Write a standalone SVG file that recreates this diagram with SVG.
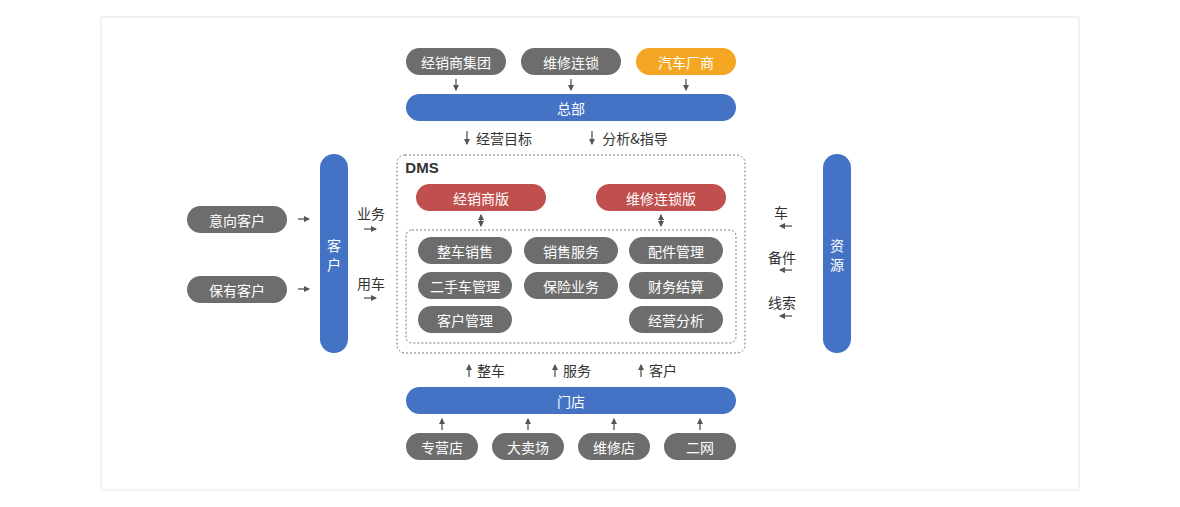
<svg xmlns="http://www.w3.org/2000/svg" width="1180" height="507" viewBox="0 0 1180 507">
<defs>
<marker id="ah" viewBox="0 0 6 6" refX="5" refY="3" markerWidth="5" markerHeight="5" orient="auto-start-reverse"><path d="M0,0L6,3L0,6z" fill="#555"/></marker>
<style>
text{font-family:"Noto Sans CJK SC","Liberation Sans",sans-serif;font-size:14px;text-anchor:middle;dominant-baseline:central}
.w{fill:#fff}.d{fill:#333}
.g{fill:#6d6d6d}.b{fill:#4472c4}.r{fill:#c0504d}.o{fill:#f5a623}
.c line{stroke:#555;stroke-width:1.3;marker-end:url(#ah)}
.dash{fill:none;stroke:#777;stroke-dasharray:2 2;stroke-width:1}
</style>
</defs>
<rect width="1180" height="507" fill="#fff"/>
<rect x="101" y="17" width="978" height="473" fill="#fff" stroke="#e6e6e6"/>
<rect class="dash" x="397" y="155" width="348" height="198" rx="8"/>
<rect class="dash" x="406" y="230" width="330" height="113" rx="6"/>
<text x="422" y="167" class="d" style="font-weight:bold;font-family:'Liberation Sans',sans-serif;font-size:15px">DMS</text>
<g id="n1"><rect class="g" x="406" y="48" width="100" height="27" rx="13.5"/><text class="w" x="456" y="61.5">经销商集团</text></g>
<g id="n2"><rect class="g" x="521" y="48" width="100" height="27" rx="13.5"/><text class="w" x="571" y="61.5">维修连锁</text></g>
<g id="n3"><rect class="o" x="636" y="48" width="100" height="27" rx="13.5"/><text class="w" x="686" y="61.5">汽车厂商</text></g>
<g id="hq"><rect class="b" x="406" y="94" width="330" height="27" rx="13.5"/><text class="w" x="571" y="107.5">总部</text></g>
<g id="dv1"><rect class="r" x="416" y="184" width="130" height="27" rx="13.5"/><text class="w" x="481" y="197.5">经销商版</text></g>
<g id="dv2"><rect class="r" x="596" y="184" width="130" height="27" rx="13.5"/><text class="w" x="661" y="197.5">维修连锁版</text></g>
<g id="m1"><rect class="g" x="418" y="237" width="94" height="27" rx="13.5"/><text class="w" x="465" y="250.5">整车销售</text></g>
<g id="m2"><rect class="g" x="524" y="237" width="94" height="27" rx="13.5"/><text class="w" x="571" y="250.5">销售服务</text></g>
<g id="m3"><rect class="g" x="629" y="237" width="94" height="27" rx="13.5"/><text class="w" x="676" y="250.5">配件管理</text></g>
<g id="m4"><rect class="g" x="418" y="272" width="94" height="27" rx="13.5"/><text class="w" x="465" y="285.5">二手车管理</text></g>
<g id="m5"><rect class="g" x="524" y="272" width="94" height="27" rx="13.5"/><text class="w" x="571" y="285.5">保险业务</text></g>
<g id="m6"><rect class="g" x="629" y="272" width="94" height="27" rx="13.5"/><text class="w" x="676" y="285.5">财务结算</text></g>
<g id="m7"><rect class="g" x="418" y="306" width="94" height="27" rx="13.5"/><text class="w" x="465" y="319.5">客户管理</text></g>
<g id="m8"><rect class="g" x="629" y="306" width="94" height="27" rx="13.5"/><text class="w" x="676" y="319.5">经营分析</text></g>
<g id="cust"><rect class="b" x="320" y="154" width="28" height="199" rx="14"/><text class="w" x="334" y="245">客</text><text class="w" x="334" y="264">户</text></g>
<g id="res"><rect class="b" x="823" y="154" width="28" height="199" rx="14"/><text class="w" x="837" y="245">资</text><text class="w" x="837" y="264">源</text></g>
<g id="c1"><rect class="g" x="187" y="206" width="100" height="27" rx="13.5"/><text class="w" x="237" y="219.5">意向客户</text></g>
<g id="c2"><rect class="g" x="187" y="276" width="100" height="27" rx="13.5"/><text class="w" x="237" y="289.5">保有客户</text></g>
<g id="store"><rect class="b" x="406" y="387" width="330" height="27" rx="13.5"/><text class="w" x="571" y="400.5">门店</text></g>
<g id="s1"><rect class="g" x="406" y="433" width="72" height="27" rx="13.5"/><text class="w" x="442" y="446.5">专营店</text></g>
<g id="s2"><rect class="g" x="492" y="433" width="72" height="27" rx="13.5"/><text class="w" x="528" y="446.5">大卖场</text></g>
<g id="s3"><rect class="g" x="578" y="433" width="72" height="27" rx="13.5"/><text class="w" x="614" y="446.5">维修店</text></g>
<g id="s4"><rect class="g" x="664" y="433" width="72" height="27" rx="13.5"/><text class="w" x="700" y="446.5">二网</text></g>
<g class="c" id="connectors">
<line x1="456" y1="79" x2="456" y2="90"/><line x1="571" y1="79" x2="571" y2="90"/><line x1="686" y1="79" x2="686" y2="90"/>
<line x1="467" y1="131" x2="467" y2="144"/><line x1="592" y1="131" x2="592" y2="144"/>
<line x1="481" y1="215" x2="481" y2="226" style="marker-start:url(#ah)"/><line x1="661" y1="215" x2="661" y2="226" style="marker-start:url(#ah)"/>
<line x1="298" y1="219" x2="309" y2="219"/><line x1="298" y1="289" x2="309" y2="289"/>
<line x1="364" y1="229" x2="376" y2="229"/><line x1="364" y1="298" x2="376" y2="298"/>
<line x1="792" y1="226" x2="780" y2="226"/><line x1="792" y1="270" x2="780" y2="270"/><line x1="792" y1="316" x2="780" y2="316"/>
<line x1="469" y1="377" x2="469" y2="365"/><line x1="555" y1="377" x2="555" y2="365"/><line x1="641" y1="377" x2="641" y2="365"/>
<line x1="442" y1="430" x2="442" y2="419"/><line x1="528" y1="430" x2="528" y2="419"/><line x1="614" y1="430" x2="614" y2="419"/><line x1="700" y1="430" x2="700" y2="419"/>
</g>
<g class="d">
<text x="504" y="138">经营目标</text><text x="635" y="138">分析&amp;指导</text>
<text x="371" y="213">业务</text><text x="371" y="283">用车</text>
<text x="781" y="212">车</text><text x="782" y="257">备件</text><text x="782" y="302">线索</text>
<text x="491" y="370">整车</text><text x="577" y="370">服务</text><text x="663" y="370">客户</text>
</g>
</svg>
